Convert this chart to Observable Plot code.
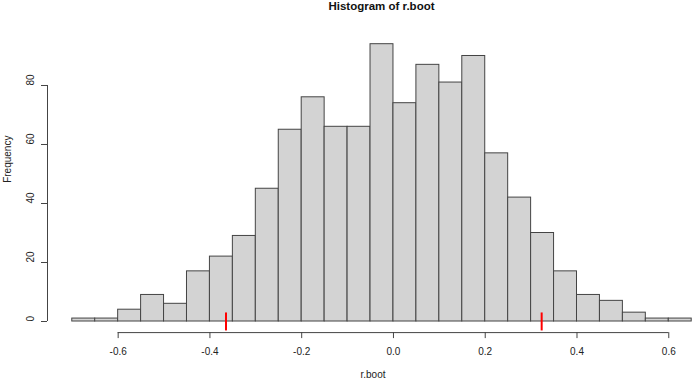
<!DOCTYPE html>
<html>
<head>
<meta charset="utf-8">
<script src="https://cdn.jsdelivr.net/npm/d3@7"></script>
<script src="https://cdn.jsdelivr.net/npm/@observablehq/plot@0.6"></script>
<style>
  html, body { margin: 0; padding: 0; background: #fff; }
  #title { height: 17px; line-height: 17px; margin-left: 47px; width: 669px; text-align: center;
    font: bold 11.5px "Liberation Sans", Arial, sans-serif; color: #111; white-space: nowrap; }
  #chart svg { display: block; }
</style>
</head>
<body>
<div id="title">Histogram of r.boot</div>
<div id="chart"></div>
<script>
// Histogram breaks (bin edges) and counts
const breaks = [-0.70, -0.65, -0.60, -0.55, -0.50, -0.45, -0.40, -0.35, -0.30, -0.25, -0.20, -0.15, -0.10, -0.05,
                0.00, 0.05, 0.10, 0.15, 0.20, 0.25, 0.30, 0.35, 0.40, 0.45, 0.50, 0.55, 0.60, 0.65];
const counts = [1, 1, 4, 9, 6, 17, 22, 29, 45, 65, 76, 66, 66, 94, 74, 87, 81, 90, 57, 42, 30, 17, 9, 7, 3, 1, 1];
// Red marks (percentile interval bounds)
const ciBounds = [-0.365, 0.323];
// Axis ticks
const xTicks = [-0.6, -0.4, -0.2, 0.0, 0.2, 0.4, 0.6];
const yTicks = [0, 20, 40, 60, 80];
const xLabel = "r.boot";
const yLabel = "Frequency";

const bins = counts.map((c, i) => ({x1: breaks[i], x2: breaks[i + 1], count: c}));
const xDomain = [-0.754, 0.6648];
const yDomain = [-3.76, 97.76];

const chart = Plot.plot({
  width: 698,
  height: 366,
  marginLeft: 47,
  marginRight: 0,
  marginTop: 15.6,
  marginBottom: 50.9,
  x: {domain: xDomain},
  y: {domain: yDomain},
  style: {fontFamily: "'Liberation Sans', Arial, sans-serif", fontSize: "10px", color: "#222", background: "#fff", overflow: "visible"},
  marks: [
    Plot.rectY(bins, {x1: "x1", x2: "x2", y1: 0, y2: "count", fill: "#d3d3d3", stroke: "#444", strokeWidth: 1}),
    Plot.ruleX(ciBounds, {x: d => d, y1: -3.2, y2: 2.9, stroke: "#ff0000", strokeWidth: 2}),
    // x axis
    Plot.ruleY([yDomain[0]], {y: d => d, x1: d3.min(xTicks), x2: d3.max(xTicks), stroke: "#444"}),
    Plot.axisX(xTicks, {tickSize: 6, tickPadding: 9, tickFormat: d => d.toFixed(1), fontSize: 10, stroke: "#444", fill: "#222", label: null}),
    Plot.text([xLabel], {text: d => d, frameAnchor: "bottom", dy: 45, fontSize: 10, fill: "#222"}),
    // y axis
    Plot.ruleX([xDomain[0]], {x: d => d, y1: d3.min(yTicks), y2: d3.max(yTicks), stroke: "#444"}),
    Plot.axisY(yTicks, {tickSize: 6, fill: "none", stroke: "#444", label: null}),
    Plot.text(yTicks, {y: d => d, text: d => String(d), frameAnchor: "left", rotate: -90, dx: -17, fontSize: 10, fill: "#222"}),
    Plot.text([yLabel], {text: d => d, frameAnchor: "left", rotate: -90, dx: -40, fontSize: 10, fill: "#222"})
  ]
});
document.getElementById("chart").appendChild(chart);
</script>
</body>
</html>
